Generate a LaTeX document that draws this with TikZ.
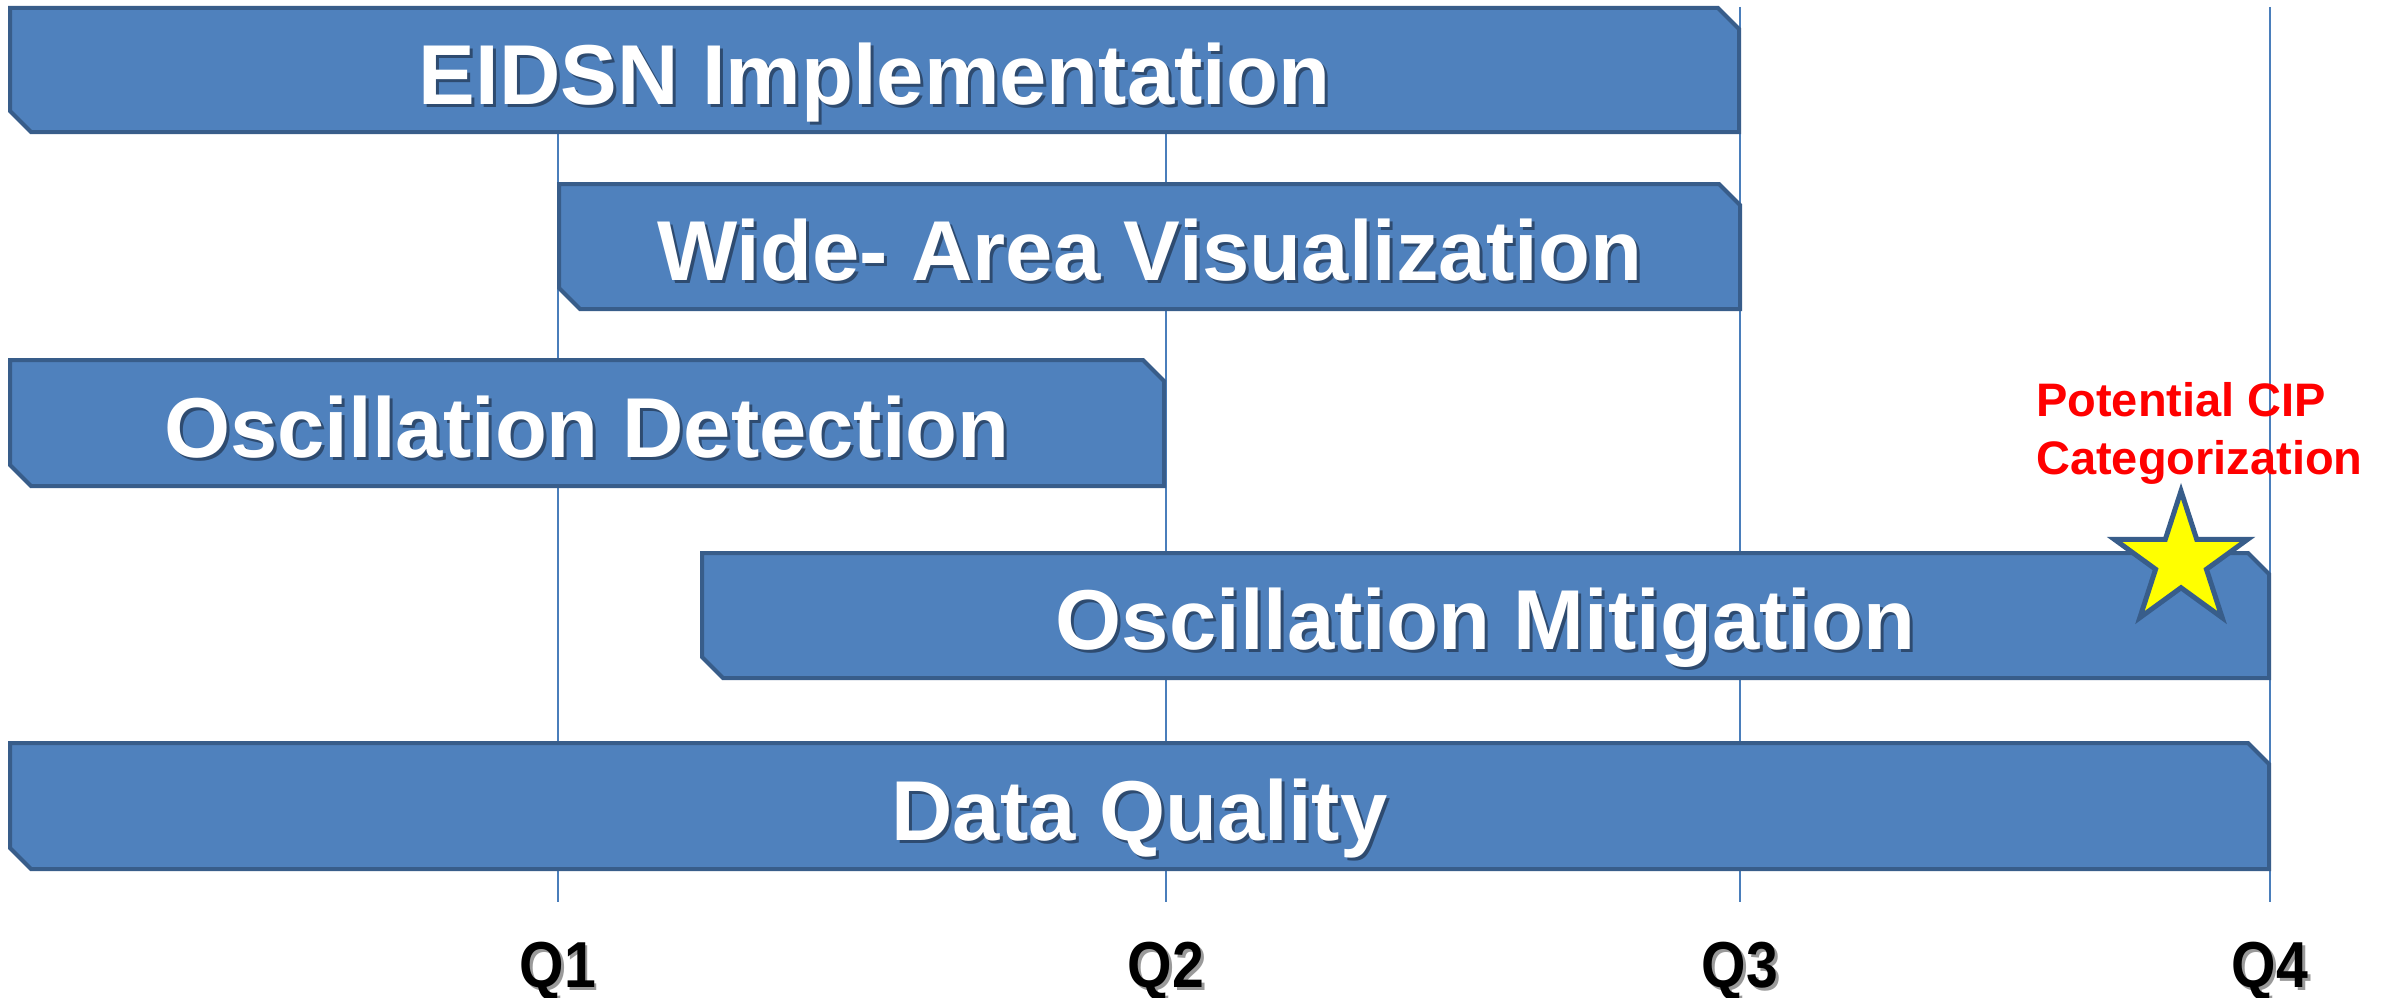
\documentclass[tikz,border=0pt]{standalone}
\usepackage{fontspec}
\setmainfont{Liberation Sans}
\usetikzlibrary{shapes.geometric}
\definecolor{barfill}{HTML}{4F81BD}
\definecolor{barline}{HTML}{385D8A}
\definecolor{gridc}{HTML}{4A7EBB}
\definecolor{txtshadow}{HTML}{2E4B70}
\definecolor{qshadow}{HTML}{9A9A9A}
\definecolor{starfill}{HTML}{FFFF00}
\definecolor{cipred}{HTML}{FF0000}
\definecolor{wmark}{HTML}{EDEDED}
\newcommand{\shtxt}[2]{\makebox[0pt][l]{\hspace{3pt}\raisebox{-3pt}{\textcolor{#1}{#2}}}#2}
\tikzset{
  barshape/.style={fill=barfill, draw=barline, line width=4pt, line join=miter},
  bartext/.style={text=white, font=\bfseries\fontsize{85}{90}\selectfont, anchor=base, inner sep=0pt},
  qlabel/.style={text=black, font=\bfseries\fontsize{65}{68}\selectfont, anchor=base, inner sep=0pt},
  gridline/.style={draw=gridc, line width=2pt},
  ciptext/.style={text=cipred, font=\bfseries\fontsize{47}{58}\selectfont, align=left, anchor=north west, inner sep=0pt},
  starnode/.style={star, star points=5, star point ratio=2.618, minimum size=140pt, inner sep=0pt, fill=starfill, draw=barline, line width=5pt},
  wmarkarc/.style={draw=wmark, line width=2pt}
}
% name, x1, y1 (top), x2, y2 (bottom), text
\newcommand{\ganttbar}[6]{%
  \draw[barshape] (#2,#3) -- ({#4-21},#3) -- (#4,{#3+21}) -- (#4,#5) -- ({#2+21},#5) -- (#2,{#5-21}) -- cycle;
  \node[bartext] (#1) at ({(#2+#4)/2},{(#3+#5)/2+34}) {\shtxt{txtshadow}{#6}};
}
\begin{document}
\begin{tikzpicture}[x=1pt,y=-1pt]
  \useasboundingbox[fill=white] (0,0) rectangle (2392,998);
  % faint watermark arcs
  \draw[wmarkarc] (1113,-27) ++(200:185) arc[start angle=200, end angle=340, radius=185];
  \draw[wmarkarc] (1113,-27) ++(205:195) arc[start angle=205, end angle=335, radius=195];
  \draw[wmarkarc] (1113,-27) ++(210:204) arc[start angle=210, end angle=330, radius=204];
  % quarter grid lines
  \foreach \n/\x in {1/558, 2/1166, 3/1740, 4/2270}{
    \coordinate (q\n top) at (\x,7);
    \coordinate (q\n bot) at (\x,902);
    \draw[gridline] (q\n top) -- (q\n bot);
    \node[qlabel] (q\n) at (\x,987) {\scalebox{0.88}[1]{\shtxt{qshadow}{Q\n}}};
  }
  % bars
  \ganttbar{eidsn}{10}{8}{1739}{132}{EIDSN Implementation}
  \ganttbar{wav}{559}{184}{1740}{309}{Wide- Area Visualization}
  \ganttbar{oscdet}{10}{360}{1164}{486}{Oscillation Detection}
  \ganttbar{oscmit}{702}{553}{2269}{678}{Oscillation Mitigation}
  \ganttbar{dq}{10}{743}{2269}{869}{Data Quality}
  % star and CIP note
  \node[starnode] (star) at (2181,561) {};
  \node[ciptext] (cip) at (2036,382) {Potential CIP\\Categorization};
\end{tikzpicture}
\end{document}
